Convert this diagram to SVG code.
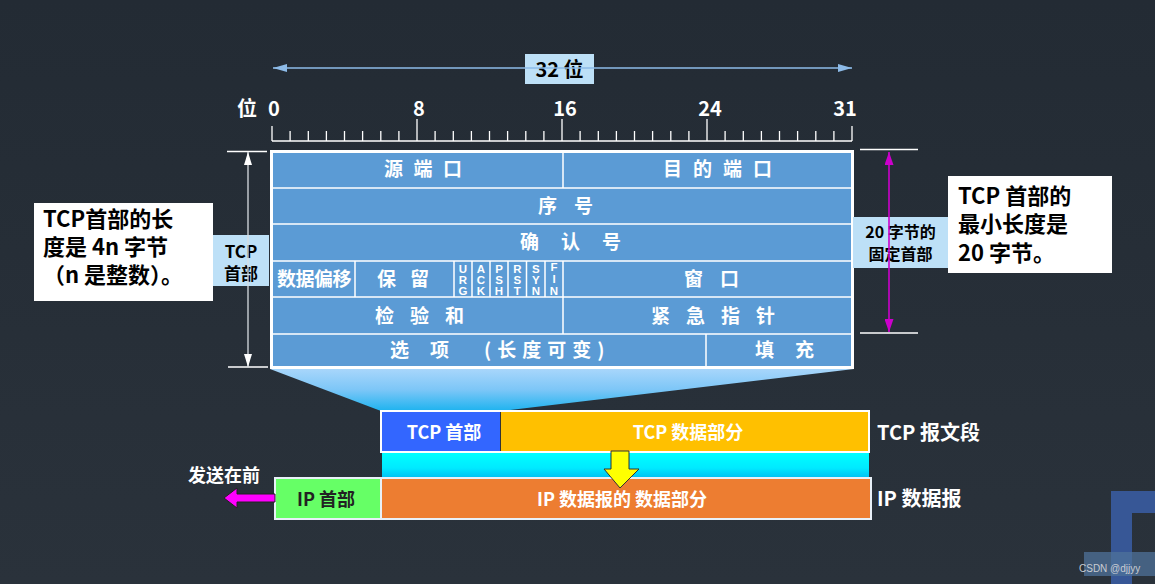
<svg xmlns="http://www.w3.org/2000/svg" width="1155" height="584" viewBox="0 0 1155 584">
<defs>
<linearGradient id="bg" x1="0" y1="0" x2="0" y2="1"><stop offset="0" stop-color="#232b34"/><stop offset="1" stop-color="#2a323b"/></linearGradient>
<linearGradient id="trap" x1="0" y1="0" x2="0" y2="1"><stop offset="0" stop-color="#a8d6fb"/><stop offset="0.5" stop-color="#7cc6f7"/><stop offset="1" stop-color="#1db3ef"/></linearGradient>
<linearGradient id="cyan" x1="0" y1="0" x2="0" y2="1"><stop offset="0" stop-color="#00ffff"/><stop offset="0.6" stop-color="#00eaff"/><stop offset="1" stop-color="#00bff2"/></linearGradient>
<marker id="ab" viewBox="0 0 14 8" refX="14" refY="4" markerWidth="14" markerHeight="8" markerUnits="userSpaceOnUse" orient="auto-start-reverse"><path d="M0,0 L14,4 L0,8 Z" fill="#8dbbe8"/></marker>
<marker id="aw" viewBox="0 0 13 8" refX="13" refY="4" markerWidth="13" markerHeight="8" markerUnits="userSpaceOnUse" orient="auto-start-reverse"><path d="M0,0 L13,4 L0,8 Z" fill="#ffffff"/></marker>
<marker id="am" viewBox="0 0 13 9" refX="13" refY="4.5" markerWidth="13" markerHeight="9" markerUnits="userSpaceOnUse" orient="auto-start-reverse"><path d="M0,0 L13,4.5 L0,9 Z" fill="#cc00cc"/></marker>
<style>
text{font-family:"Noto Sans CJK SC","Noto Sans",sans-serif;font-weight:bold}
.cell{fill:#ffffff;font-size:19px}
.flag{fill:#ffffff;font-size:11.5px;font-family:"Liberation Sans","Noto Sans",sans-serif;text-anchor:middle}
.grid{stroke:#ffffff;stroke-width:1.5;fill:none}
.tick{stroke:#ffffff;stroke-width:1.3}
.lbl{fill:#bde0f7}
.big{font-size:22px;fill:#000}
.num{font-size:20px;fill:#fff;text-anchor:middle}
</style>
</defs>
<rect x="0" y="0" width="1155" height="584" fill="url(#bg)"/>

<!-- decoration bottom right -->
<path d="M1111,491 H1155 V513 H1132 V584 H1111 Z" fill="#375796"/>
<rect x="1084" y="552" width="71" height="24" fill="#4f7299" opacity="0.75"/>
<text x="1079" y="572" style="font-family:'Liberation Sans',sans-serif;font-weight:normal;font-size:10px;fill:#c8ccd2">CSDN @djjyy</text>

<!-- ruler -->
<g id="ruler">
<text x="247" y="116" style="font-size:20px;fill:#fff;text-anchor:middle">位</text>
<text x="274" y="116" class="num">0</text>
<text x="419" y="116" class="num">8</text>
<text x="565" y="116" class="num">16</text>
<text x="710" y="116" class="num">24</text>
<text x="845" y="116" class="num">31</text>
<line x1="272" y1="141" x2="852" y2="141" class="tick"/>
<path class="tick" d="M272,126V141 M852,126V141 M417,119V141 M562,119V141 M707,119V141 M290.1,131V141 M308.3,131V141 M326.4,131V141 M344.5,131V141 M362.6,131V141 M380.8,131V141 M398.9,131V141 M435.1,131V141 M453.3,131V141 M471.4,131V141 M489.5,131V141 M507.6,131V141 M525.8,131V141 M543.9,131V141 M580.1,131V141 M598.3,131V141 M616.4,131V141 M634.5,131V141 M652.6,131V141 M670.8,131V141 M688.9,131V141 M725.1,131V141 M743.3,131V141 M761.4,131V141 M779.5,131V141 M797.6,131V141 M815.8,131V141 M833.9,131V141"/>
</g>

<!-- trapezoid expansion -->
<polygon points="270,369 854,369 501,411 381,411" fill="url(#trap)"/>

<!-- header table -->
<g id="tcp-header">
<rect x="271.5" y="151.5" width="581" height="216" fill="#5b9bd5" stroke="#ffffff" stroke-width="3"/>
<path class="grid" d="M273,188H851 M273,224H851 M273,261H851 M273,297H851 M273,334H851 M563,152V188 M563,261V334 M355,261V297 M454,261V297 M472,261V297 M490,261V297 M508,261V297 M526.5,261V297 M545,261V297 M706,334V367"/>
<text x="384" y="176" class="cell" style="letter-spacing:10.5px">源端口</text>
<text x="663" y="176" class="cell" style="letter-spacing:11px">目的端口</text>
<text x="538" y="213" class="cell" style="letter-spacing:17px">序号</text>
<text x="520" y="249" class="cell" style="letter-spacing:22px">确认号</text>
<text x="277" y="286" class="cell" style="letter-spacing:-0.5px">数据偏移</text>
<text x="377" y="286" class="cell" style="letter-spacing:14px">保留</text>
<text x="684" y="286" class="cell" style="letter-spacing:17px">窗口</text>
<text x="375" y="323" class="cell" style="letter-spacing:16px">检验和</text>
<text x="651" y="323" class="cell" style="letter-spacing:16px">紧急指针</text>
<text x="390" y="357" class="cell" style="letter-spacing:21px">选项</text>
<text x="484" y="357" class="cell" style="letter-spacing:6px">(长度可变)</text>
<text x="755" y="357" class="cell" style="letter-spacing:21px">填充</text>
<text class="flag"><tspan x="463" y="272.5">U</tspan><tspan x="463" y="283.5">R</tspan><tspan x="463" y="294.5">G</tspan></text>
<text class="flag"><tspan x="481" y="272.5">A</tspan><tspan x="481" y="283.5">C</tspan><tspan x="481" y="294.5">K</tspan></text>
<text class="flag"><tspan x="499" y="272.5">P</tspan><tspan x="499" y="283.5">S</tspan><tspan x="499" y="294.5">H</tspan></text>
<text class="flag"><tspan x="517.3" y="272.5">R</tspan><tspan x="517.3" y="283.5">S</tspan><tspan x="517.3" y="294.5">T</tspan></text>
<text class="flag"><tspan x="535.8" y="272.5">S</tspan><tspan x="535.8" y="283.5">Y</tspan><tspan x="535.8" y="294.5">N</tspan></text>
<text class="flag"><tspan x="554" y="271">F</tspan><tspan x="554" y="282.5">I</tspan><tspan x="554" y="294.5">N</tspan></text>
</g>

<!-- 32 bit label -->
<g id="label-32">
<rect x="525" y="54" width="69" height="30" fill="#bde0f7"/>
<text x="559.5" y="77" style="font-size:20px;fill:#000;text-anchor:middle">32 位</text>
</g>

<!-- left labels -->
<g id="label-tcp-header">
<rect x="213" y="235" width="56" height="51" class="lbl"/>
<text x="241" y="258" style="font-size:17px;fill:#000;text-anchor:middle">TCP</text>
<text x="241" y="280" style="font-size:17px;fill:#000;text-anchor:middle">首部</text>
</g>
<g id="note-left">
<rect x="34" y="203" width="179" height="98" fill="#ffffff"/>
<text x="43" y="227" class="big">TCP首部的长</text>
<text x="43" y="255" class="big">度是 4n 字节</text>
<text x="43" y="283" class="big">（n 是整数）。</text>
</g>

<!-- right labels -->
<g id="label-20">
<rect x="853" y="217" width="95" height="51" class="lbl"/>
<text x="900.5" y="238" style="font-size:16px;fill:#000;text-anchor:middle">20 字节的</text>
<text x="900.5" y="260" style="font-size:16px;fill:#000;text-anchor:middle">固定首部</text>
</g>
<g id="note-right">
<rect x="948" y="176" width="164" height="97" fill="#ffffff"/>
<text x="958" y="204" class="big">TCP 首部的</text>
<text x="958" y="232" class="big">最小长度是</text>
<text x="958" y="261" class="big">20 字节。</text>
</g>

<!-- TCP segment -->
<g id="tcp-segment">
<rect x="381" y="411" width="488" height="41" fill="#ffc000" stroke="#ffffff" stroke-width="2"/>
<rect x="382" y="412" width="118" height="39" fill="#3366ff"/>
<line x1="500.5" y1="412" x2="500.5" y2="451" stroke="#333" stroke-width="1"/>
<text x="444" y="439" style="font-size:18px;fill:#fff;text-anchor:middle">TCP 首部</text>
<text x="688" y="439" style="font-size:18px;fill:#fff;text-anchor:middle">TCP 数据部分</text>
<text x="877" y="440" style="font-size:20px;fill:#fff">TCP 报文段</text>
</g>

<!-- cyan band -->
<rect x="382" y="453" width="487" height="25" fill="url(#cyan)"/>

<!-- IP datagram -->
<g id="ip-datagram">
<rect x="275" y="478" width="596" height="41" fill="#ed7d31" stroke="#e8f0f8" stroke-width="2"/>
<rect x="276" y="479" width="104" height="39" fill="#66ff66"/>
<line x1="381" y1="479" x2="381" y2="518" stroke="#e8f0f8" stroke-width="2"/>
<text x="326" y="506" style="font-size:18px;fill:#222;text-anchor:middle">IP 首部</text>
<text x="622" y="506" style="font-size:18px;fill:#fff;text-anchor:middle">IP 数据报的 数据部分</text>
<text x="877" y="506" style="font-size:20px;fill:#fff">IP 数据报</text>
</g>

<g id="label-send-first">
<text x="188" y="482" style="font-size:18px;fill:#fff">发送在前</text>
</g>

<!-- connectors -->
<g id="connectors">
<line x1="273" y1="68" x2="852" y2="68" stroke="#8dbbe8" stroke-width="1.6" marker-start="url(#ab)" marker-end="url(#ab)"/>
<line x1="227" y1="151.5" x2="267" y2="151.5" stroke="#fff" stroke-width="1.3"/>
<line x1="228" y1="367" x2="268" y2="367" stroke="#fff" stroke-width="1.3"/>
<line x1="248" y1="152" x2="248" y2="367" stroke="#d8dde2" stroke-width="1.3" marker-start="url(#aw)" marker-end="url(#aw)"/>
<line x1="860" y1="149.5" x2="918" y2="149.5" stroke="#fff" stroke-width="1.3"/>
<line x1="860" y1="333" x2="918" y2="333" stroke="#fff" stroke-width="1.3"/>
<line x1="889" y1="152" x2="889" y2="332" stroke="#cc00cc" stroke-width="1.6" marker-start="url(#am)" marker-end="url(#am)"/>
<polygon points="611,451 629,451 629,469 639,469 620,488 604,469 611,469" fill="#ffff00" stroke="#333" stroke-width="1"/>
<polygon points="224,498 237,488 237,494 275,494 275,502 237,502 237,508" fill="#ff00ff" stroke="#222" stroke-width="1"/>
</g>
</svg>
